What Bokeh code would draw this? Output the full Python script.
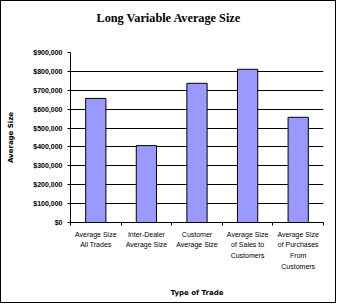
from bokeh.plotting import figure
from bokeh.models import (ColumnDataSource, FixedTicker, NumeralTickFormatter,
                          Range1d, Title)
from bokeh.embed import file_html
from bokeh.resources import INLINE

categories = ["Average Size\nAll Trades", "Inter-Dealer\nAverage Size",
              "Customer\nAverage Size", "Average Size\nof Sales to\nCustomers",
              "Average Size\nof Purchases\nFrom\nCustomers"]
values = [657000, 407000, 737000, 811000, 557000]
y_ticks = [0, 100000, 200000, 300000, 400000, 500000, 600000, 700000, 800000, 900000]

positions = [i + 0.5 for i in range(len(categories))]
src = ColumnDataSource(dict(x=positions, top=values))

W, H = 336, 303
p = figure(width=W, height=H, output_backend="svg", toolbar_location=None,
           x_range=Range1d(0, len(categories)), y_range=Range1d(0, 900000),
           min_border_left=69, min_border_right=14, min_border_top=51,
           min_border_bottom=82, title=None)
p.styles = {"border": "1px solid black"}
p.outline_line_color = None
p.background_fill_color = "white"
p.border_fill_color = "white"

p.vbar(x="x", top="top", width=0.4, bottom=0, source=src,
       fill_color="#9999ff", line_color="black", line_width=1)

# y axis
p.yaxis.ticker = FixedTicker(ticks=y_ticks)
p.yaxis.formatter = NumeralTickFormatter(format="$0,0")
p.yaxis.major_tick_out = 3
p.yaxis.major_tick_in = 0
p.yaxis.minor_tick_line_color = None
p.yaxis.axis_line_color = "black"
p.yaxis.major_tick_line_color = "black"
p.yaxis.major_label_text_color = "black"
p.yaxis.major_label_text_font = "Liberation Sans"
p.yaxis.major_label_text_font_style = "bold"
p.yaxis.major_label_text_font_size = "7px"
p.yaxis.major_label_standoff = 5
p.yaxis.axis_label = "Average Size"
p.yaxis.axis_label_text_color = "black"
p.yaxis.axis_label_text_font = "DejaVu Sans"
p.yaxis.axis_label_text_font_style = "bold"
p.yaxis.axis_label_text_font_size = "7px"
p.yaxis.axis_label_standoff = 15

# x axis
p.xaxis.ticker = FixedTicker(ticks=positions, minor_ticks=list(range(len(categories) + 1)))
p.xaxis.major_label_overrides = {pos: c for pos, c in zip(positions, categories)}
p.xaxis.major_tick_in = 0
p.xaxis.major_tick_out = 0
p.xaxis.minor_tick_in = 0
p.xaxis.minor_tick_out = 3
p.xaxis.minor_tick_line_color = "black"
p.xaxis.axis_line_color = "black"
p.xaxis.major_label_text_color = "black"
p.xaxis.major_label_text_font = "Liberation Sans"
p.xaxis.major_label_text_font_size = "7px"
p.xaxis.major_label_text_line_height = 1.55
p.xaxis.major_label_standoff = 5
p.xaxis.axis_label = "Type of Trade"
p.xaxis.axis_label_text_color = "black"
p.xaxis.axis_label_text_font = "DejaVu Sans"
p.xaxis.axis_label_text_font_style = "bold"
p.xaxis.axis_label_text_font_size = "7px"
p.xaxis.axis_label_standoff = 16

p.xgrid.grid_line_color = None
p.ygrid.grid_line_color = "black"
p.ygrid.grid_line_width = 1

spacer = Title(text=" ", standoff=5, text_font_size="14px")
p.add_layout(spacer, "above")
title = Title(text="Long Variable Average Size", align="left", offset=26,
              text_font="Liberation Serif", text_font_style="bold",
              text_font_size="12.25px", text_color="black")
p.add_layout(title, "above")

open("out.html", "w").write(file_html(p, INLINE))
